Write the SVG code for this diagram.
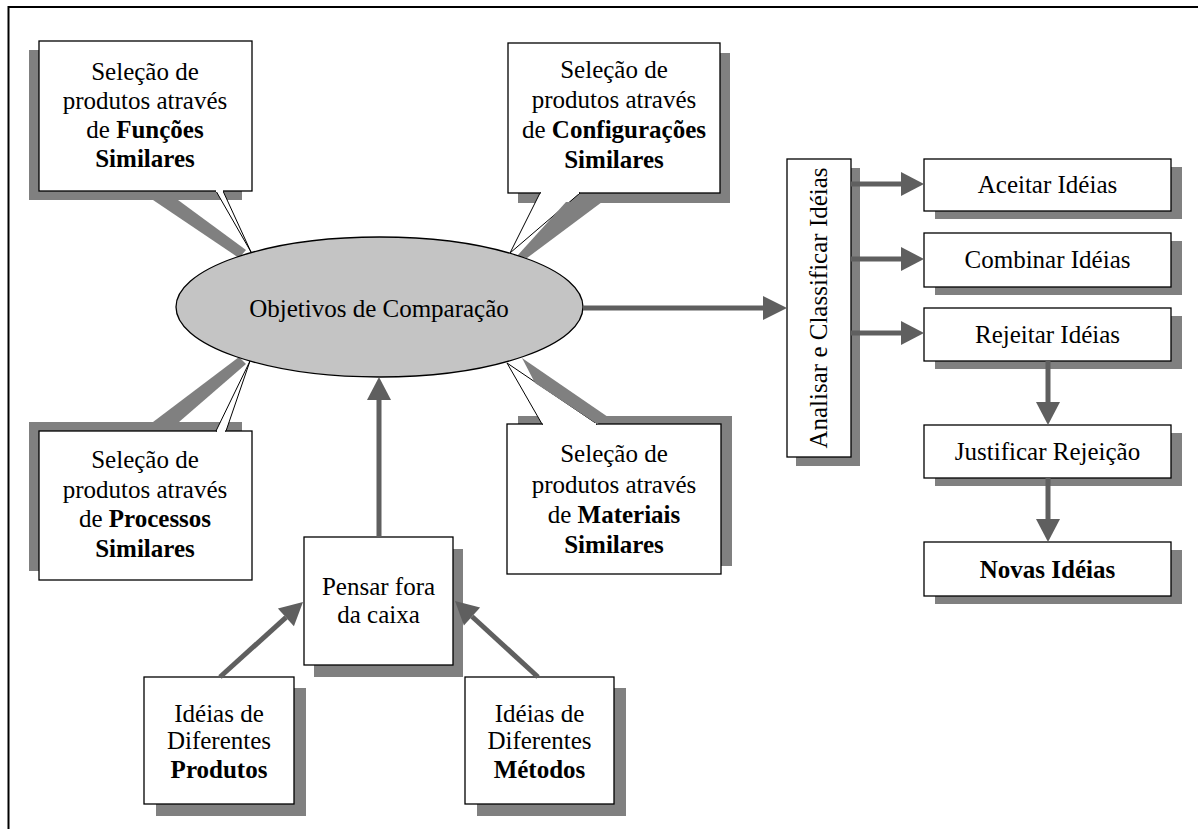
<svg xmlns="http://www.w3.org/2000/svg" width="1198" height="829" viewBox="0 0 1198 829">
<style>
text{font-family:"Liberation Serif","Times New Roman",serif;font-size:25px;fill:#000;text-anchor:middle}
.b{font-weight:bold}
.box{fill:#fff;stroke:#000;stroke-width:1.3}
.sh{fill:#808080}
.ptr{fill:#fff;stroke:#000;stroke-width:1}
.ln{stroke:#5f5f5f;stroke-width:5;fill:none}
.hd{fill:#5f5f5f}
</style>
<rect width="1198" height="829" fill="#fff"/>
<path d="M8.5,829 V7 H1198" fill="none" stroke="#000" stroke-width="2"/>

<g id="callout-funcoes">
<rect class="sh" x="29" y="50" width="213" height="150"/>
<polygon class="sh" points="153,200 178,200 246,250 239,258"/>
<rect class="box" x="39" y="41" width="213" height="150"/>
<polygon class="ptr" points="216,191 223,191 251,252"/>
<line x1="216" y1="191" x2="223" y2="191" stroke="#fff" stroke-width="2"/>
<text x="145" y="80">Seleção de</text>
<text x="145" y="109">produtos através</text>
<text x="145" y="138">de <tspan class="b">Funções</tspan></text>
<text x="145" y="167" class="b">Similares</text>
</g>

<g id="callout-configuracoes">
<rect class="sh" x="518" y="53" width="212" height="150"/>
<rect class="box" x="508" y="43" width="212" height="150"/>
<polygon class="ptr" points="540,193 580,193 510,253"/>
<line x1="541" y1="193" x2="579" y2="193" stroke="#fff" stroke-width="2"/>
<polygon class="sh" points="566,202 602,202 527,258 517,256"/>
<text x="614" y="78">Seleção de</text>
<text x="614" y="108">produtos através</text>
<text x="614" y="138">de <tspan class="b">Configurações</tspan></text>
<text x="614" y="168" class="b">Similares</text>
</g>

<g id="callout-processos">
<rect class="sh" x="29" y="422" width="213" height="149"/>
<polygon class="sh" points="153,422 179,422 246,364 239,357"/>
<rect class="box" x="39" y="431" width="213" height="149"/>
<polygon class="ptr" points="216,431 226,431 250,361"/>
<line x1="217" y1="431" x2="225" y2="431" stroke="#fff" stroke-width="2"/>
<text x="145" y="468">Seleção de</text>
<text x="145" y="498">produtos através</text>
<text x="145" y="527">de <tspan class="b">Processos</tspan></text>
<text x="145" y="557" class="b">Similares</text>
</g>

<g id="callout-materiais">
<rect class="sh" x="518" y="416" width="214" height="150"/>
<rect class="box" x="507" y="424" width="214" height="150"/>
<polygon class="ptr" points="507,363 542,424 597,424"/>
<line x1="543" y1="424" x2="596" y2="424" stroke="#fff" stroke-width="2"/>
<polygon class="sh" points="522,358 608,417 597,424 535,383"/>
<text x="614" y="462">Seleção de</text>
<text x="614" y="493">produtos através</text>
<text x="614" y="523">de <tspan class="b">Materiais</tspan></text>
<text x="614" y="553" class="b">Similares</text>
</g>

<g id="objetivos">
<ellipse cx="379.5" cy="307" rx="203.5" ry="70" fill="#c4c4c4" stroke="#000" stroke-width="1.3"/>
<text x="379" y="317">Objetivos de Comparação</text>
</g>

<g id="pensar">
<rect class="sh" x="314" y="549" width="149" height="128"/>
<rect class="box" x="304" y="537" width="149" height="128"/>
<text x="378.5" y="595">Pensar fora</text>
<text x="378.5" y="623">da caixa</text>
</g>

<g id="produtos">
<rect class="sh" x="156" y="688" width="150" height="128"/>
<rect class="box" x="144" y="677" width="150" height="127"/>
<text x="219" y="722">Idéias de</text>
<text x="219" y="749">Diferentes</text>
<text x="219" y="778" class="b">Produtos</text>
</g>

<g id="metodos">
<rect class="sh" x="477" y="688" width="149" height="128"/>
<rect class="box" x="465" y="677" width="149" height="127"/>
<text x="539.5" y="722">Idéias de</text>
<text x="539.5" y="749">Diferentes</text>
<text x="539.5" y="778" class="b">Métodos</text>
</g>

<g id="analisar">
<rect class="sh" x="796" y="168" width="64" height="298"/>
<rect class="box" x="787" y="159" width="64" height="298"/>
<text transform="translate(827,308) rotate(-90)" x="0" y="0">Analisar e Classificar Idéias</text>
</g>

<g id="aceitar">
<rect class="sh" x="935" y="167" width="247" height="52"/>
<rect class="box" x="924" y="159" width="247" height="52"/>
<text x="1047.5" y="193">Aceitar Idéias</text>
</g>
<g id="combinar">
<rect class="sh" x="935" y="241" width="247" height="54"/>
<rect class="box" x="924" y="233" width="247" height="54"/>
<text x="1047.5" y="268">Combinar Idéias</text>
</g>
<g id="rejeitar">
<rect class="sh" x="935" y="316" width="247" height="53"/>
<rect class="box" x="924" y="308" width="247" height="53"/>
<text x="1047.5" y="343">Rejeitar Idéias</text>
</g>
<g id="justificar">
<rect class="sh" x="935" y="433" width="247" height="53"/>
<rect class="box" x="924" y="425" width="247" height="53"/>
<text x="1047.5" y="460">Justificar Rejeição</text>
</g>
<g id="novas">
<rect class="sh" x="935" y="550" width="247" height="54"/>
<rect class="box" x="924" y="542" width="247" height="54"/>
<text x="1047.5" y="578" class="b">Novas Idéias</text>
</g>

<g id="connectors">
<line class="ln" x1="379" y1="537" x2="379" y2="399"/>
<polygon class="hd" points="379,377 367,400 391,400"/>
<line class="ln" x1="583" y1="308" x2="764" y2="308"/>
<polygon class="hd" points="787,308 763,296 763,320"/>
<line class="ln" x1="851" y1="184" x2="902" y2="184"/>
<polygon class="hd" points="924,184 901,172 901,196"/>
<line class="ln" x1="851" y1="259" x2="902" y2="259"/>
<polygon class="hd" points="924,259 901,247 901,271"/>
<line class="ln" x1="851" y1="333" x2="902" y2="333"/>
<polygon class="hd" points="924,333 901,321 901,345"/>
<line class="ln" x1="1048" y1="361" x2="1048" y2="403"/>
<polygon class="hd" points="1048,425 1036,402 1060,402"/>
<line class="ln" x1="1048" y1="478" x2="1048" y2="520"/>
<polygon class="hd" points="1048,542 1036,519 1060,519"/>
<line class="ln" x1="220" y1="677" x2="286" y2="617.4"/>
<polygon class="hd" points="303,602 293.9,626.3 277.9,608.5"/>
<line class="ln" x1="538" y1="677" x2="472" y2="616.5"/>
<polygon class="hd" points="455,601 480.1,607.6 463.9,625.4"/>
</g>
</svg>
